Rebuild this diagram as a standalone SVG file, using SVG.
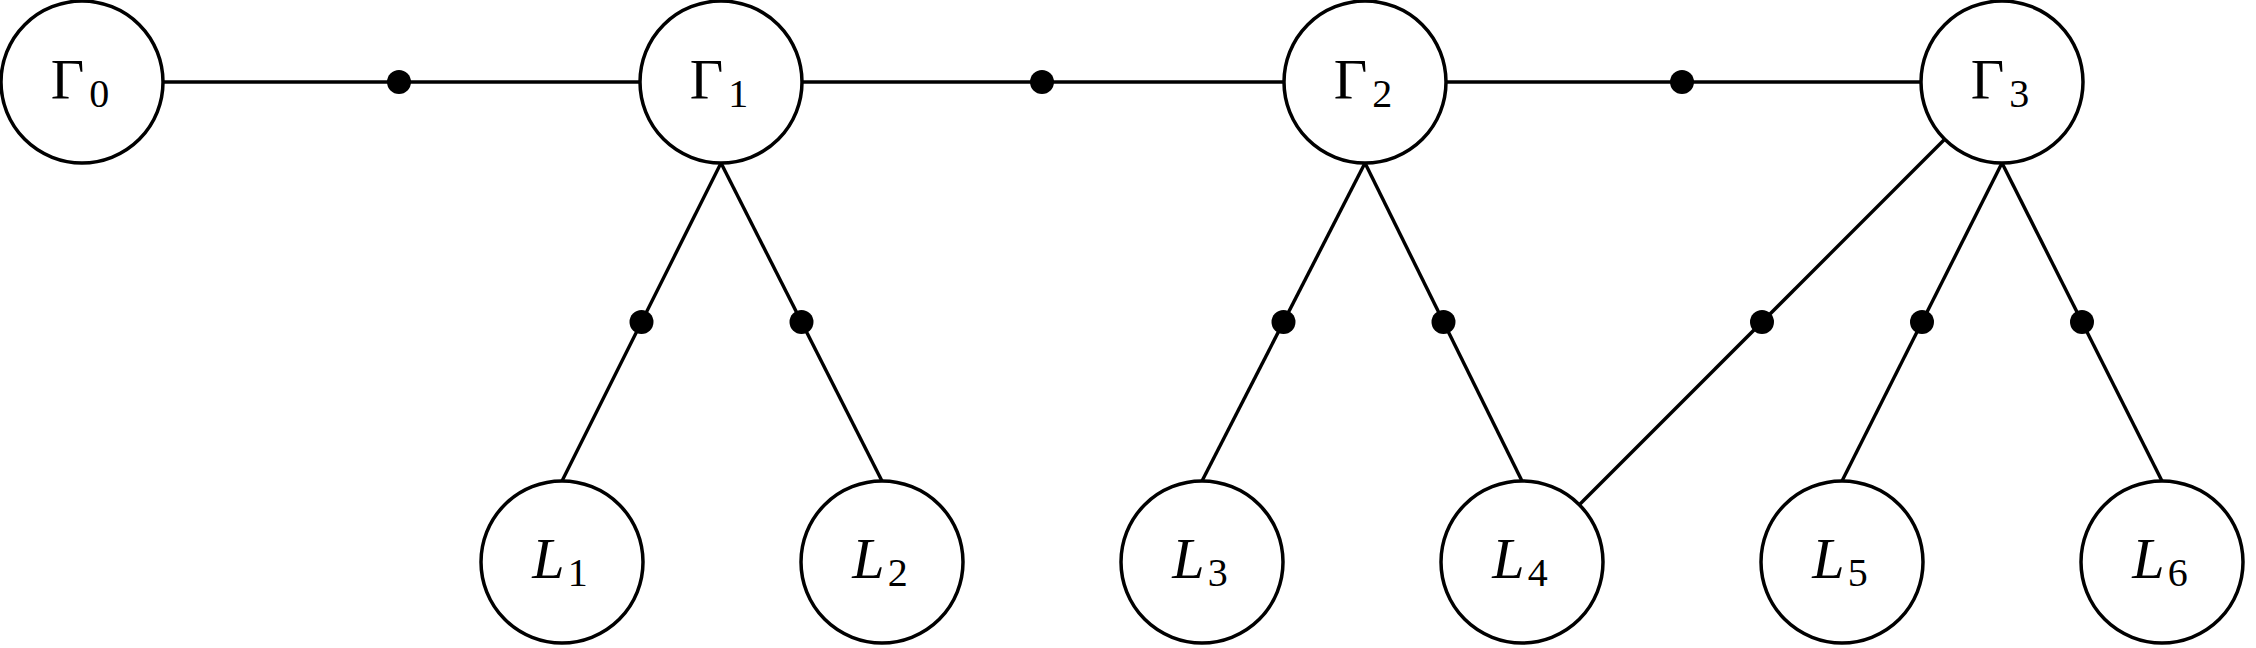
<svg xmlns="http://www.w3.org/2000/svg" width="2256" height="648" viewBox="0 0 2256 648">
<style>
.node circle{fill:#fff;stroke:#000;stroke-width:3.5}
.lbl{font-family:"Liberation Serif","DejaVu Serif",serif;font-size:58px;fill:#000;text-anchor:middle}
.it{font-style:italic}
.sub{font-style:normal;font-size:40px}
#edges line{stroke:#000;stroke-width:3.4}
#edges circle{fill:#000}
</style>
<rect width="2256" height="648" fill="#fff"/>
<g id="edges">
<line x1="163" y1="82" x2="640" y2="82"/>
<line x1="802" y1="82" x2="1284" y2="82"/>
<line x1="1446" y1="82" x2="1921" y2="82"/>
<line x1="721" y1="163" x2="562" y2="481"/>
<line x1="721" y1="163" x2="882" y2="481"/>
<line x1="1365" y1="163" x2="1202" y2="481"/>
<line x1="1365" y1="163" x2="1522" y2="481"/>
<line x1="1944.7" y1="139.3" x2="1579.3" y2="504.7"/>
<line x1="2002" y1="163" x2="1842" y2="481"/>
<line x1="2002" y1="163" x2="2162" y2="481"/>
<circle cx="399" cy="82" r="12"/>
<circle cx="1042" cy="82" r="12"/>
<circle cx="1682" cy="82" r="12"/>
<circle cx="641.5" cy="322" r="12"/>
<circle cx="801.5" cy="322" r="12"/>
<circle cx="1283.5" cy="322" r="12"/>
<circle cx="1443.5" cy="322" r="12"/>
<circle cx="1762" cy="322" r="12"/>
<circle cx="1922" cy="322" r="12"/>
<circle cx="2082" cy="322" r="12"/>
</g>
<g id="G0" class="node"><circle cx="82" cy="82" r="81"/><text class="lbl" x="80" y="99">Γ<tspan class="sub" dx="5" dy="8">0</tspan></text></g>
<g id="G1" class="node"><circle cx="721" cy="82" r="81"/><text class="lbl" x="719" y="99">Γ<tspan class="sub" dx="5" dy="8">1</tspan></text></g>
<g id="G2" class="node"><circle cx="1365" cy="82" r="81"/><text class="lbl" x="1363" y="99">Γ<tspan class="sub" dx="5" dy="8">2</tspan></text></g>
<g id="G3" class="node"><circle cx="2002" cy="82" r="81"/><text class="lbl" x="2000" y="99">Γ<tspan class="sub" dx="5" dy="8">3</tspan></text></g>
<g id="L1" class="node"><circle cx="562" cy="562" r="81"/><text class="lbl it" x="560" y="578">L<tspan class="sub" dx="3" dy="8">1</tspan></text></g>
<g id="L2" class="node"><circle cx="882" cy="562" r="81"/><text class="lbl it" x="880" y="578">L<tspan class="sub" dx="3" dy="8">2</tspan></text></g>
<g id="L3" class="node"><circle cx="1202" cy="562" r="81"/><text class="lbl it" x="1200" y="578">L<tspan class="sub" dx="3" dy="8">3</tspan></text></g>
<g id="L4" class="node"><circle cx="1522" cy="562" r="81"/><text class="lbl it" x="1520" y="578">L<tspan class="sub" dx="3" dy="8">4</tspan></text></g>
<g id="L5" class="node"><circle cx="1842" cy="562" r="81"/><text class="lbl it" x="1840" y="578">L<tspan class="sub" dx="3" dy="8">5</tspan></text></g>
<g id="L6" class="node"><circle cx="2162" cy="562" r="81"/><text class="lbl it" x="2160" y="578">L<tspan class="sub" dx="3" dy="8">6</tspan></text></g>
</svg>
